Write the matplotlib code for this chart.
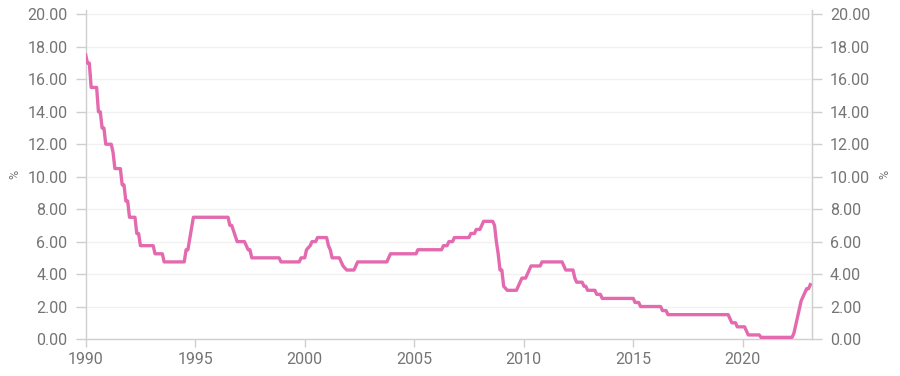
import matplotlib
matplotlib.use("Agg")
import matplotlib.pyplot as plt

# cash rate (%) at each bend of the line
months = [
    "1990-01", "1990-02", "1990-03", "1990-04", "1990-07", "1990-08", "1990-09",
    "1990-10", "1990-11", "1990-12", "1991-03", "1991-04", "1991-05", "1991-08",
    "1991-09", "1991-10", "1991-11", "1991-12", "1992-01", "1992-04", "1992-05",
    "1992-06", "1992-07", "1993-02", "1993-03", "1993-07", "1993-08", "1994-07",
    "1994-08", "1994-09", "1994-12", "1996-07", "1996-08", "1996-09", "1996-12",
    "1997-04", "1997-06", "1997-07", "1997-08", "1998-11", "1998-12", "1999-10",
    "1999-11", "2000-01", "2000-02", "2000-04", "2000-05", "2000-07", "2000-08",
    "2001-01", "2001-02", "2001-03", "2001-04", "2001-08", "2001-09", "2001-10",
    "2001-12", "2002-04", "2002-05", "2002-06", "2003-10", "2003-11", "2003-12",
    "2005-02", "2005-03", "2006-04", "2006-05", "2006-07", "2006-08", "2006-10",
    "2006-11", "2007-07", "2007-08", "2007-10", "2007-11", "2008-01", "2008-02",
    "2008-03", "2008-08", "2008-09", "2008-10", "2008-11", "2008-12", "2009-01",
    "2009-02", "2009-04", "2009-09", "2009-10", "2009-11", "2009-12", "2010-02",
    "2010-03", "2010-04", "2010-05", "2010-10", "2010-11", "2011-10", "2011-11",
    "2011-12", "2012-04", "2012-05", "2012-06", "2012-09", "2012-10", "2012-11",
    "2012-12", "2013-04", "2013-05", "2013-07", "2013-08", "2015-01", "2015-02",
    "2015-04", "2015-05", "2016-04", "2016-05", "2016-07", "2016-08", "2019-05",
    "2019-06", "2019-07", "2019-09", "2019-10", "2020-02", "2020-03", "2020-04",
    "2020-10", "2020-11", "2022-04", "2022-05", "2022-06", "2022-07", "2022-08",
    "2022-09", "2022-10", "2022-11", "2022-12", "2023-01", "2023-02",
]
rates = [
    17.5, 17.0, 17.0, 15.5, 15.5, 14.0, 14.0,
    13.0, 13.0, 12.0, 12.0, 11.5, 10.5, 10.5,
    9.5, 9.5, 8.5, 8.5, 7.5, 7.5, 6.5,
    6.5, 5.75, 5.75, 5.25, 5.25, 4.75, 4.75,
    5.5, 5.5, 7.5, 7.5, 7.0, 7.0, 6.0,
    6.0, 5.5, 5.5, 5.0, 5.0, 4.75, 4.75,
    5.0, 5.0, 5.5, 5.75, 6.0, 6.0, 6.25,
    6.25, 5.75, 5.5, 5.0, 5.0, 4.75, 4.5,
    4.25, 4.25, 4.5, 4.75, 4.75, 5.0, 5.25,
    5.25, 5.5, 5.5, 5.75, 5.75, 6.0, 6.0,
    6.25, 6.25, 6.5, 6.5, 6.75, 6.75, 7.0,
    7.25, 7.25, 7.0, 6.0, 5.25, 4.25, 4.25,
    3.25, 3.0, 3.0, 3.25, 3.5, 3.75, 3.75,
    4.0, 4.25, 4.5, 4.5, 4.75, 4.75, 4.5,
    4.25, 4.25, 3.75, 3.5, 3.5, 3.25, 3.25,
    3.0, 3.0, 2.75, 2.75, 2.5, 2.5, 2.25,
    2.25, 2.0, 2.0, 1.75, 1.75, 1.5, 1.5,
    1.25, 1.0, 1.0, 0.75, 0.75, 0.5, 0.25,
    0.25, 0.1, 0.1, 0.35, 0.85, 1.35, 1.85,
    2.35, 2.6, 2.85, 3.1, 3.1, 3.35,
]
x_ticks = [1990, 1995, 2000, 2005, 2010, 2015, 2020]
y_ticks = [0, 2, 4, 6, 8, 10, 12, 14, 16, 18, 20]

# "YYYY-MM" -> decimal year
x = [int(m[:4]) + (int(m[5:]) - 1) / 12 for m in months]

plt.rcParams["font.family"] = ["Roboto", "DejaVu Sans"]
grey = "#757575"
spine_col = "#cfcfcf"

fig = plt.figure(figsize=(9, 3.76), dpi=100)
ax = fig.add_axes([0.0952, 0.0984, 0.9022 - 0.0952, 0.9734 - 0.0984])
ax.plot(x, rates, color="#e46aaf", lw=2.4, solid_joinstyle="round", zorder=3)

ax.set_xlim(1990, 2023.16)
ax.set_ylim(0, 20.27)
ax.set_xticks(x_ticks)
ax.set_xticklabels([str(t) for t in x_ticks])
ax.set_yticks(y_ticks)
ax.set_yticklabels([f"{t:.2f}" for t in y_ticks])
ax.grid(axis="y", color="#f1f1f1", lw=1)
ax.set_axisbelow(True)

ax.spines["top"].set_visible(False)
for side in ["left", "bottom", "right"]:
    ax.spines[side].set_color(spine_col)
    ax.spines[side].set_linewidth(1)

ax.tick_params(axis="x", colors=spine_col, labelcolor=grey, labelsize=11.5,
               length=6, width=1, pad=3)
ax.tick_params(axis="y", colors=spine_col, labelcolor=grey, labelsize=11.5,
               length=7, width=1, pad=6)
ax.set_ylabel("%", color=grey, fontsize=9, labelpad=4)

ax2 = ax.twinx()
ax2.set_ylim(ax.get_ylim())
ax2.set_yticks(y_ticks)
ax2.set_yticklabels([f"{t:.2f}" for t in y_ticks])
for side in ["top", "left", "bottom"]:
    ax2.spines[side].set_visible(False)
ax2.spines["right"].set_color(spine_col)
ax2.tick_params(axis="y", colors=spine_col, labelcolor=grey, labelsize=11.5,
                length=7, width=1, pad=6)
ax2.set_ylabel("%", color=grey, fontsize=9, labelpad=6)

fig.savefig("out.png", dpi=100)
